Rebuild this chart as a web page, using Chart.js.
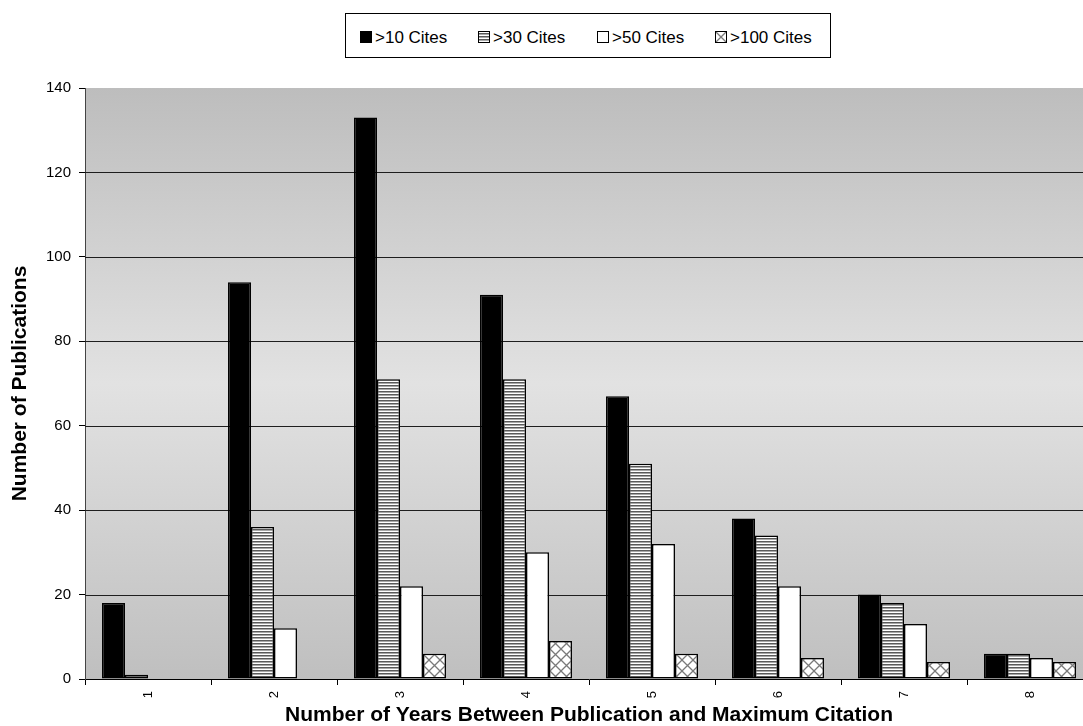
<!DOCTYPE html>
<html>
  <head>
    <meta charset="utf-8">
    <title>Publications by years to maximum citation</title>
    <script src="https://cdn.jsdelivr.net/npm/chart.js@4.4.0/dist/chart.umd.min.js"></script>
    <style>
      html, body {
        margin: 0;
        padding: 0;
        background: #ffffff;
      }
      body {
        width: 1083px;
        height: 726px;
        overflow: hidden;
        position: relative;
        font-family: "Liberation Sans", Arial, sans-serif;
      }
      #wrap {
        position: absolute;
        left: 0;
        top: 0;
        width: 1100px;
        height: 726px;
      }
      #legend {
        position: absolute;
        left: 345px;
        top: 13px;
        width: 486px;
        height: 45px;
        border: 1px solid #000;
        box-sizing: border-box;
        background: #fff;
      }
      .item {
        position: absolute;
        top: 14px;
        font-size: 17px;
        line-height: 20px;
        color: #000;
        white-space: nowrap;
      }
      .sw {
        display: inline-block;
        width: 10px;
        height: 10px;
        border: 1px solid #000;
        margin-right: 3px;
        vertical-align: 0px;
        background-repeat: repeat;
      }
    </style>
  </head>
  <body>

<div id="wrap">
  <canvas id="myChart" width="1100" height="726"></canvas>
</div>
<div id="legend"></div>

<script>
  // values
  const years = ['1', '2', '3', '4', '5', '6', '7', '8'];
  const cites10 = [18, 94, 133, 91, 67, 38, 20, 6];
  const cites30 = [1, 36, 71, 71, 51, 34, 18, 6];
  const cites50 = [0, 12, 22, 30, 32, 22, 13, 5];
  const cites100 = [0, 0, 6, 9, 6, 5, 4, 4];
  const seriesNames = ['>10 Cites', '>30 Cites', '>50 Cites', '>100 Cites'];
  const yMax = 140;
  const yStep = 20;

  // fill patterns (tiles kept so the legend can reuse them)
  function stripeTile() {
    const c = document.createElement('canvas');
    c.width = 4; c.height = 3;
    const g = c.getContext('2d');
    g.fillStyle = '#ffffff'; g.fillRect(0, 0, 4, 3);
    g.fillStyle = '#5a5a5a'; g.fillRect(0, 1, 4, 1);
    g.fillStyle = '#a8a8a8'; g.fillRect(0, 2, 4, 1);
    return c;
  }
  function hatchTile(size) {
    const c = document.createElement('canvas');
    c.width = size; c.height = size;
    const g = c.getContext('2d');
    g.fillStyle = '#ffffff'; g.fillRect(0, 0, size, size);
    g.strokeStyle = '#7a7a7a';
    g.lineWidth = 1.3;
    g.beginPath();
    g.moveTo(0, 0); g.lineTo(size, size);
    g.moveTo(size, 0); g.lineTo(0, size);
    g.stroke();
    return c;
  }
  const stripeC = stripeTile();
  const hatchC = hatchTile(11);
  const tmp = document.createElement('canvas').getContext('2d');
  const fills = ['#000000', tmp.createPattern(stripeC, 'repeat'), '#ffffff', tmp.createPattern(hatchC, 'repeat')];
  const swatchCss = [
    'background-color:#000',
    'background-image:url(' + stripeC.toDataURL() + ')',
    'background-color:#fff',
    'background-image:url(' + hatchTile(10).toDataURL() + ')'
  ];

  // html legend
  const legendX = [14, 132, 251, 369];
  const legend = document.getElementById('legend');
  seriesNames.forEach((name, i) => {
    const s = document.createElement('span');
    s.className = 'item';
    s.style.left = legendX[i] + 'px';
    s.innerHTML = '<span class="sw" style="' + swatchCss[i] + '"></span>' + name.replace('>', '&gt;');
    legend.appendChild(s);
  });

  const plotBg = {
    id: 'plotBg',
    beforeDraw(chart) {
      const a = chart.chartArea;
      const ctx = chart.ctx;
      const grad = ctx.createLinearGradient(0, a.top, 0, a.bottom);
      grad.addColorStop(0, '#bdbdbd');
      grad.addColorStop(0.5, '#e2e2e2');
      grad.addColorStop(1, '#bfbfbf');
      ctx.save();
      ctx.fillStyle = grad;
      ctx.fillRect(a.left, a.top, a.right - a.left, a.bottom - a.top);
      ctx.restore();
    }
  };

  const hLines = {
    id: 'hLines',
    beforeDatasetsDraw(chart) {
      const a = chart.chartArea;
      const y = chart.scales.y;
      const ctx = chart.ctx;
      ctx.save();
      ctx.strokeStyle = '#1e1e1e';
      ctx.lineWidth = 1;
      y.ticks.forEach(t => {
        if (t.value <= 0 || t.value >= yMax) return;
        const py = Math.round(y.getPixelForValue(t.value)) + 0.5;
        ctx.beginPath();
        ctx.moveTo(a.left, py);
        ctx.lineTo(a.right, py);
        ctx.stroke();
      });
      ctx.restore();
    }
  };

  const data = [cites10, cites30, cites50, cites100];

  var ctx = document.getElementById('myChart').getContext('2d');
  var chart = new Chart(ctx, {
    type: 'bar',
    data: {
      labels: years,
      datasets: data.map((d, i) => ({
        label: seriesNames[i],
        data: d,
        backgroundColor: fills[i],
        borderColor: '#000000',
        borderWidth: c => (c.raw ? 1.5 : 0),
        borderSkipped: false,
        categoryPercentage: 0.73,
        barPercentage: 1.0
      }))
    },
    plugins: [plotBg, hLines],
    options: {
      responsive: false,
      animation: false,
      layout: { padding: { top: 88, right: 7, left: 0, bottom: 0 } },
      plugins: {
        legend: { display: false },
        tooltip: { enabled: false }
      },
      scales: {
        x: {
          grid: { offset: true, drawOnChartArea: false, tickLength: 6, color: '#000000' },
          border: { color: '#000000' },
          ticks: {
            color: '#000000',
            minRotation: 90,
            maxRotation: 90,
            padding: 6,
            font: { family: 'Liberation Sans', size: 13 }
          },
          title: {
            display: true,
            text: 'Number of Years Between Publication and Maximum Citation',
            color: '#000000',
            font: { family: 'Liberation Sans', size: 21, weight: 'bold' },
            padding: { top: 0, bottom: -2 }
          },
          afterFit(scale) { scale.height = 47; }
        },
        y: {
          min: 0,
          max: yMax,
          ticks: {
            stepSize: yStep,
            color: '#000000',
            padding: 8,
            font: { family: 'Liberation Sans', size: 15 }
          },
          grid: { drawOnChartArea: false, tickLength: 6, color: '#000000' },
          border: { color: '#444444' },
          title: {
            display: true,
            text: 'Number of Publications',
            color: '#000000',
            font: { family: 'Liberation Sans', size: 21, weight: 'bold' },
            padding: { top: 8, bottom: 0 }
          },
          afterFit(scale) { scale.width = 85; }
        }
      }
    }
  });
</script>

  </body>
</html>
